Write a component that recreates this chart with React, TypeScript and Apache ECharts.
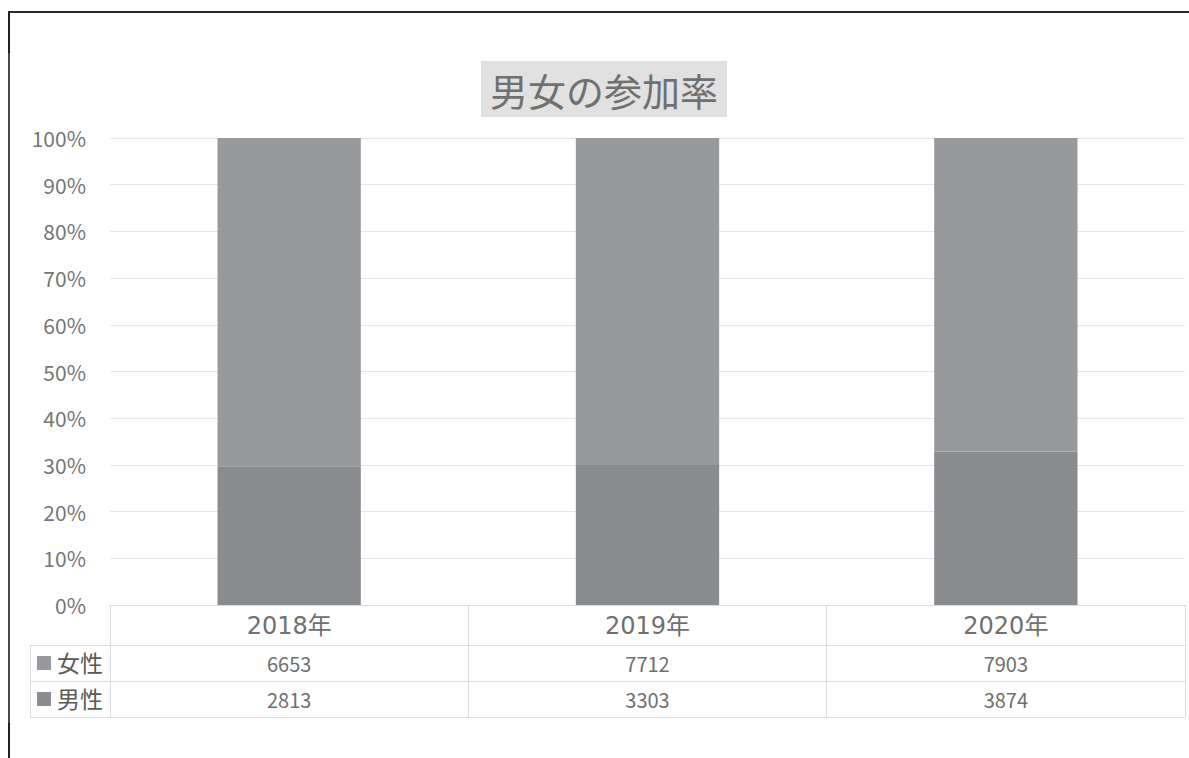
import React, { useEffect, useRef } from "react";
import * as echarts from "echarts";

const categories = ["2018年", "2019年", "2020年"];
const femaleValues = [6653, 7712, 7903];
const maleValues = [2813, 3303, 3874];
const seriesNames = ["女性", "男性"];
const yTicks = [0, 10, 20, 30, 40, 50, 60, 70, 80, 90, 100];

const FEMALE_COLOR = "#98999d";
const MALE_COLOR = "#8b8c90";
const TEXT_COLOR = "#707070";
const LINE_COLOR = "#dcdcdc";
const FONT = "'Noto Sans CJK JP', 'Noto Sans', sans-serif";
const WIDE_FONT = "'DejaVu Sans', 'Noto Sans CJK JP', sans-serif";

export default function App() {
  const ref = useRef<HTMLDivElement>(null);
  useEffect(() => {
    if (!ref.current) return;
    const chart = echarts.init(ref.current, null, { renderer: "svg" });
    const totals = categories.map((_, i) => femaleValues[i] + maleValues[i]);
    const malePct = maleValues.map((v, i) => (v / totals[i]) * 100);
    const femalePct = femaleValues.map((v, i) => (v / totals[i]) * 100);

    const gridLeft = 110;
    const gridRight = 4;
    const gridTop = 138;
    const gridBottom = 153;
    const axisY = 758 - gridBottom; // 605
    const row1 = 40;
    const row2 = 36;
    const row3 = 36;
    const legendLeft = 30;
    const legendRows = [
      { name: seriesNames[0], color: FEMALE_COLOR, cy: axisY + row1 + row2 / 2 },
      { name: seriesNames[1], color: MALE_COLOR, cy: axisY + row1 + row2 + row3 / 2 },
    ];

    const legendGraphics: any[] = [];
    legendRows.forEach((r) => {
      legendGraphics.push({
        type: "rect",
        shape: { x: 37, y: r.cy - 7, width: 14, height: 14 },
        style: { fill: r.color },
      });
      legendGraphics.push({
        type: "text",
        x: 57,
        y: r.cy - 1.5,
        style: {
          text: r.name,
          fontFamily: FONT,
          fontSize: 23,
          fill: "#5a5a5a",
          textAlign: "left",
          textVerticalAlign: "middle",
        },
      });
    });

    chart.setOption({
      animation: false,
      backgroundColor: "#ffffff",
      textStyle: { fontFamily: FONT },
      title: {
        text: "男女の参加率",
        left: 481,
        top: 61,
        backgroundColor: "#e1e1e1",
        padding: [8, 9, 8, 9],
        textStyle: {
          fontFamily: FONT,
          fontSize: 38,
          lineHeight: 40,
          fontWeight: "normal",
          color: "#707070",
        },
      },
      grid: {
        left: gridLeft,
        right: gridRight,
        top: gridTop,
        bottom: gridBottom,
        containLabel: false,
      },
      yAxis: {
        type: "value",
        min: yTicks[0],
        max: yTicks[yTicks.length - 1],
        interval: 10,
        axisLine: { show: false },
        axisTick: { show: false },
        splitLine: { lineStyle: { color: "#e6e6e6", width: 1 } },
        axisLabel: {
          formatter: (v: number) => `${v}%`,
          fontFamily: FONT,
          fontSize: 21,
          color: "#767676",
          margin: 24,
        },
      },
      xAxis: [
        {
          type: "category",
          data: categories,
          position: "bottom",
          axisLine: { show: true, lineStyle: { color: LINE_COLOR, width: 1 } },
          axisTick: {
            show: true,
            alignWithLabel: false,
            length: row1 + row2 + row3,
            lineStyle: { color: LINE_COLOR, width: 1 },
          },
          axisLabel: {
            fontFamily: WIDE_FONT,
            fontSize: 24,
            color: TEXT_COLOR,
            margin: 9,
          },
        },
        {
          type: "category",
          data: femaleValues.map(String),
          position: "bottom",
          offset: row1,
          axisLine: { show: true, lineStyle: { color: LINE_COLOR, width: 1 } },
          axisTick: { show: false },
          axisLabel: {
            fontFamily: FONT,
            fontSize: 20,
            color: TEXT_COLOR,
            margin: 8,
          },
        },
        {
          type: "category",
          data: maleValues.map(String),
          position: "bottom",
          offset: row1 + row2,
          axisLine: { show: true, lineStyle: { color: LINE_COLOR, width: 1 } },
          axisTick: { show: false },
          axisLabel: {
            fontFamily: FONT,
            fontSize: 20,
            color: TEXT_COLOR,
            margin: 8,
          },
        },
      ],
      series: [
        {
          name: seriesNames[1],
          type: "bar",
          stack: "total",
          xAxisIndex: 0,
          barWidth: "40%",
          itemStyle: { color: MALE_COLOR },
          data: malePct,
        },
        {
          name: seriesNames[0],
          type: "bar",
          stack: "total",
          xAxisIndex: 0,
          barWidth: "40%",
          itemStyle: { color: FEMALE_COLOR },
          data: femalePct,
        },
      ],
      graphic: [
        {
          type: "line",
          shape: { x1: 9, y1: 11, x2: 9, y2: 758 },
          style: { stroke: "#4a4a4a", lineWidth: 2 },
        },
        {
          type: "line",
          shape: { x1: 9, y1: 11, x2: 9, y2: 53 },
          style: { stroke: "#222222", lineWidth: 2 },
        },
        {
          type: "line",
          shape: { x1: 9, y1: 723, x2: 9, y2: 758 },
          style: { stroke: "#222222", lineWidth: 2 },
        },
        {
          type: "line",
          shape: { x1: 8, y1: 12, x2: 1189, y2: 12 },
          style: { stroke: "#2a2a2a", lineWidth: 2 },
        },
        {
          type: "line",
          shape: { x1: legendLeft, y1: axisY + row1 + 0.5, x2: gridLeft, y2: axisY + row1 + 0.5 },
          style: { stroke: LINE_COLOR, lineWidth: 1 },
        },
        {
          type: "line",
          shape: { x1: legendLeft, y1: axisY + row1 + row2 + 0.5, x2: gridLeft, y2: axisY + row1 + row2 + 0.5 },
          style: { stroke: LINE_COLOR, lineWidth: 1 },
        },
        {
          type: "line",
          shape: {
            x1: legendLeft,
            y1: axisY + row1 + row2 + row3 + 0.5,
            x2: 1189 - gridRight,
            y2: axisY + row1 + row2 + row3 + 0.5,
          },
          style: { stroke: LINE_COLOR, lineWidth: 1 },
        },
        {
          type: "line",
          shape: { x1: legendLeft + 0.5, y1: axisY + row1, x2: legendLeft + 0.5, y2: axisY + row1 + row2 + row3 },
          style: { stroke: LINE_COLOR, lineWidth: 1 },
        },
        ...legendGraphics,
      ],
    });
    return () => chart.dispose();
  }, []);
  return (
    <div
      ref={ref}
      style={{ position: "absolute", left: 0, top: 0, width: 1189, height: 758, background: "#fff" }}
    />
  );
}
